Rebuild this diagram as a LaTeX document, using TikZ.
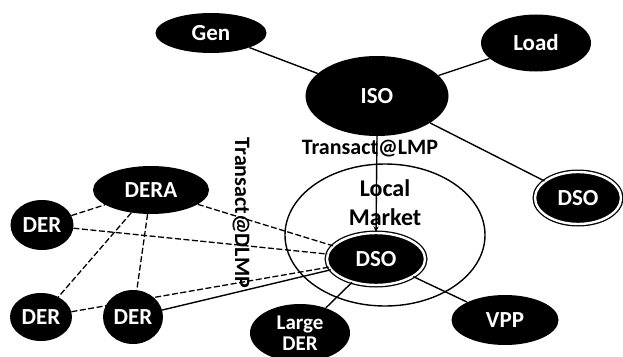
\documentclass[tikz,border=0pt]{standalone}
\usepackage{fontspec}
\setmainfont{Carlito}
\usetikzlibrary{shapes.geometric,arrows.meta}
\begin{document}
\begin{tikzpicture}[x=1pt,y=-1pt,
  blob/.style={ellipse,fill=black,text=white,inner sep=0pt,font=\fontsize{23}{24}\selectfont\bfseries},
  dblob/.style={blob,draw=black,double=white,double distance=2.4pt,line width=1.3pt},
  link/.style={line width=1.4pt},
  dlink/.style={line width=1.3pt,dash pattern=on 6pt off 2.5pt},
  lbl/.style={font=\fontsize{22}{24}\selectfont\bfseries,inner sep=1pt}]
\useasboundingbox (0,0) rectangle (623,356);
\node[blob,minimum width=111pt,minimum height=40pt] (gen) at (211,33) {Gen};
\node[blob,minimum width=110pt,minimum height=57pt] (load) at (536,43) {Load};
\node[blob,minimum width=143pt,minimum height=80pt] (iso) at (377,96) {ISO};
\node[dblob,minimum width=86pt,minimum height=52pt] (dsor) at (578,198) {DSO};
\node[draw,ellipse,line width=1.4pt,minimum width=200pt,minimum height=142pt] (lm) at (385,235) {};
\node[font=\fontsize{24}{29}\selectfont\bfseries,align=center] (lmt) at (385,203) {Local\\Market};
\node[dblob,minimum width=98pt,minimum height=52pt] (dsoc) at (376,259) {DSO};
\node[blob,minimum width=116pt,minimum height=48pt] (dera) at (151,190) {DERA};
\node[blob,minimum width=63pt,minimum height=50pt] (der1) at (42,225) {DER};
\node[blob,minimum width=62pt,minimum height=48pt] (der2) at (41,317) {DER};
\node[blob,minimum width=60pt,minimum height=54pt] (der3) at (133,317) {DER};
\node[blob,minimum width=100pt,minimum height=58pt,align=center,font=\fontsize{21}{21}\selectfont\bfseries] (ldr) at (300,333) {Large\\DER};
\node[blob,minimum width=107pt,minimum height=50pt] (vpp) at (505,320) {VPP};
\node[lbl] (tlmp) at (370,149) {Transact@LMP};
\node[lbl,rotate=-90] (tdlmp) at (241,213) {Transact@DLMP};
\draw[link] (gen) -- (iso);
\draw[link] (load) -- (iso);
\draw[link] (iso) -- (dsor);
\draw[link,-{Stealth[length=6pt,width=5pt]}] (iso.south) -- (dsoc.north);
\draw[dlink] (dera) -- (dsoc);
\draw[dlink] (der1) -- (dsoc);
\draw[dlink] (der1) -- (dera);
\draw[dlink] (dera) -- (der2);
\draw[dlink] (dera) -- (der3);
\draw[dlink] (der2) -- (dsoc);
\draw[link] (der3) -- (dsoc);
\draw[link] (dsoc) -- (ldr);
\draw[link] (dsoc) -- (vpp);
\end{tikzpicture}
\end{document}
